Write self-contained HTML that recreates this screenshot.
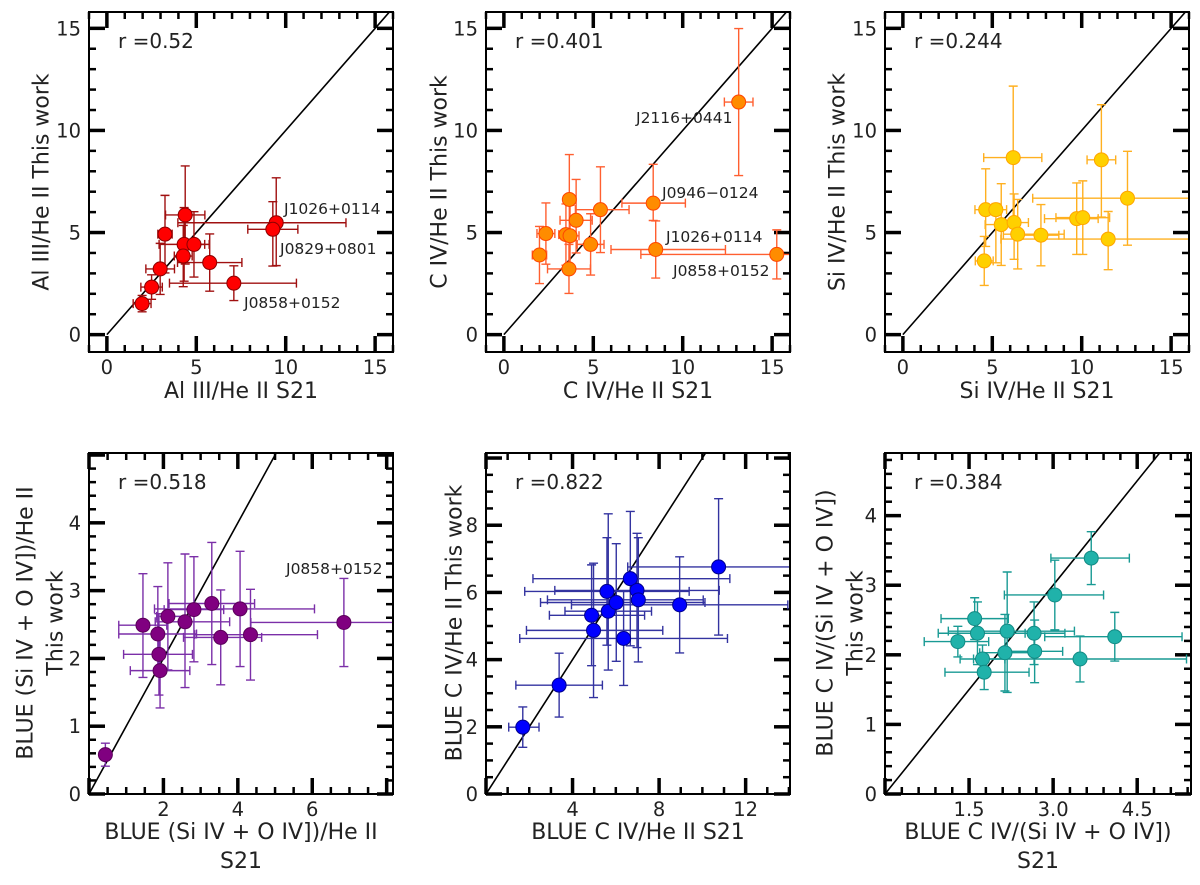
<!DOCTYPE html>
<html><head><meta charset="utf-8">
<style>
html,body{margin:0;padding:0;background:#fff;}
svg{display:block;font-family:"DejaVu Sans","Liberation Sans",sans-serif;}
</style></head>
<body>
<svg id="fig" width="1200" height="885" viewBox="0 0 1200 885" xmlns="http://www.w3.org/2000/svg"></svg>
<script>
// ---- Panel 1: Al III/He II ----
const p1x=[1.97,2.5,2.98,3.25,4.38,4.32,4.87,4.27,5.75,7.1,9.47,9.28];
const p1y=[1.52,2.33,3.22,4.92,5.86,4.42,4.42,3.85,3.53,2.52,5.48,5.16];
const p1xlo=[0.5,0.6,0.8,0.4,1.1,1.4,0.6,0.5,1.8,3.6,5.5,1.4];
const p1xhi=[0.5,0.6,0.8,0.4,1.1,1.4,0.6,0.5,1.8,3.5,3.9,1.4];
const p1ylo=[0.4,0.6,1.25,1.9,2.4,1.8,1.6,1.5,1.4,0.85,2.1,1.8];
const p1yhi=[0.4,0.6,1.25,1.9,2.4,1.8,1.6,1.5,1.4,0.85,2.2,1.35];
// ---- Panel 2: C IV/He II ----
const p2x=[13.13,8.35,8.49,15.26,5.4,3.66,4.04,3.47,3.7,2.35,1.99,4.85,3.64];
const p2y=[11.39,6.44,4.17,3.93,6.12,6.62,5.6,4.9,4.84,4.95,3.9,4.42,3.22];
const p2xlo=[0.8,1.75,2.5,7.6,1.4,0.3,0.9,0.4,0.5,0.5,0.4,0.75,1.2];
const p2xhi=[0.8,1.8,3.9,1,1.6,0.3,0.9,0.4,0.5,0.5,0.4,0.75,1.2];
const p2ylo=[3.6,0.85,1.4,1.2,2.1,3.4,1.6,1.5,1.5,1.5,1.4,1.5,1.2];
const p2yhi=[3.6,1.9,1.4,1.2,2.1,2.2,2.0,1.5,1.5,1.5,1.4,1.5,1.2];
// ---- Panel 3: Si IV/He II ----
const p3x=[6.17,11.1,12.56,9.72,10.06,11.48,4.63,5.2,5.5,6.22,6.42,7.72,4.55];
const p3y=[8.67,8.56,6.68,5.68,5.73,4.68,6.12,6.12,5.39,5.49,4.92,4.87,3.61];
const p3xlo=[1.65,0.8,5.3,1.8,1.5,6,0.6,0.6,0.9,0.8,0.8,1,0.5];
const p3xhi=[1.6,0.8,5,1.2,1.5,5,0.6,0.6,0.9,0.8,2.6,1,0.5];
const p3ylo=[3.4,2.8,2.3,1.75,1.8,1.5,1.8,2.6,2.0,1.8,1.7,1.5,1.2];
const p3yhi=[3.5,2.7,2.3,1.75,1.8,1.35,2.0,0.3,2.0,1.4,1.7,1.5,1.2];
// ---- Panel 4: BLUE (Si IV + O IV])/He II ----
const p4x=[0.44,1.45,1.85,1.88,1.91,2.12,2.58,2.82,3.3,3.54,4.06,4.34,6.85];
const p4y=[0.58,2.49,2.36,2.06,1.82,2.62,2.54,2.72,2.81,2.31,2.73,2.35,2.53];
const p4xlo=[0.1,0.65,1.05,0.95,0.8,0.3,0.8,0.8,1.15,1.0,2.3,1.5,2.5];
const p4xhi=[0.1,0.64,1.04,0.9,0.8,0.6,1.2,0.8,1.15,1.1,2.0,1.8,2.5];
const p4ylo=[0.17,0.77,0.5,0.6,0.55,0.79,0.97,0.77,0.9,0.7,0.85,0.67,0.65];
const p4yhi=[0.17,0.76,0.7,0.6,0.55,0.79,1.0,0.78,0.9,0.7,0.85,0.67,0.65];
// ---- Panel 5: BLUE C IV/He II ----
const p5x=[1.7,3.38,4.97,4.88,6.36,5.65,5.59,6.02,6.67,6.98,7.04,8.95,10.75];
const p5y=[1.99,3.24,4.87,5.32,4.63,5.44,6.03,5.7,6.41,6.06,5.78,5.63,6.76];
const p5xlo=[0.65,2.0,3.1,1.95,4.8,2,3.8,3.5,4.5,3.8,4.2,5,4.2];
const p5xhi=[0.75,2.0,3.2,2.45,4.8,2,3.8,4.1,4.6,3.8,3.0,5,5];
const p5ylo=[0.6,0.95,2,1.5,1.4,1.75,1.6,1.75,2,1.7,1.85,1.43,2.03];
const p5yhi=[0.6,0.95,2,1.5,1.4,2.9,1.6,1.75,2,1.7,1.85,1.43,2.03];
// ---- Panel 6: BLUE C IV/(Si IV + O IV]) ----
const p6x=[3.68,3.03,1.6,1.65,1.3,2.18,2.66,4.1,2.14,2.67,1.74,3.48,1.77];
const p6y=[3.39,2.86,2.52,2.31,2.19,2.34,2.31,2.26,2.03,2.05,1.94,1.94,1.75];
const p6xlo=[0.72,0.9,0.6,0.7,0.6,1.05,0.5,1.25,0.45,0.5,0.4,1.9,0.7];
const p6xhi=[0.68,0.87,0.6,0.85,0.55,1.2,0.55,1.2,0.45,0.5,0.4,1.9,0.8];
const p6ylo=[0.38,0.5,0.3,0.45,0.22,0.88,0.45,0.35,0.55,0.45,0.2,0.33,0.25];
const p6yhi=[0.38,0.5,0.3,0.45,0.22,0.85,0.45,0.35,0.55,0.45,0.2,0.33,0.25];

const rValues=["0.52","0.401","0.244","0.518","0.822","0.384"];
const topTickLabels=["0","5","10","15"];
const p4xTicks=["2","4","6"], p4yTicks=["0","1","2","3","4"];
const p5xTicks=["4","8","12"], p5yTicks=["0","2","4","6","8"];
const p6xTicks=["1.5","3.0","4.5"], p6yTicks=["0","1","2","3","4"];

const NS="http://www.w3.org/2000/svg";
const svg=document.getElementById('fig');
function mk(tag,attrs,parent){const e=document.createElementNS(NS,tag);for(const k in attrs)e.setAttribute(k,attrs[k]);(parent||svg).appendChild(e);return e;}

const panels=[
 {id:1,f:[89,12,393,352],xl:[-1,16],yl:[-0.85,15.8],xmaj:5,xmin:1,ymaj:5,ymin:1,xt:topTickLabels,yt:topTickLabels,xt0:0,yt0:0,
  d:[p1x,p1y,p1xlo,p1xhi,p1ylo,p1yhi],mc:"#ff0000",me:"#8b0000",ec:"#a01010"},
 {id:2,f:[486,12,790,352],xl:[-1,16],yl:[-0.85,15.8],xmaj:5,xmin:1,ymaj:5,ymin:1,xt:topTickLabels,yt:topTickLabels,xt0:0,yt0:0,
  d:[p2x,p2y,p2xlo,p2xhi,p2ylo,p2yhi],mc:"#ff8c00",me:"#ff4500",ec:"#ff5f30"},
 {id:3,f:[885,12,1189,352],xl:[-1,16],yl:[-0.85,15.8],xmaj:5,xmin:1,ymaj:5,ymin:1,xt:topTickLabels,yt:topTickLabels,xt0:0,yt0:0,
  d:[p3x,p3y,p3xlo,p3xhi,p3ylo,p3yhi],mc:"#ffd000",me:"#ffa500",ec:"#ffb020"},
 {id:4,f:[89,453,393,794],xl:[0,8.17],yl:[0,5.03],xmaj:2,xmin:0.5,ymaj:1,ymin:0.2,xt:p4xTicks,yt:p4yTicks,xt0:2,yt0:0,
  d:[p4x,p4y,p4xlo,p4xhi,p4ylo,p4yhi],mc:"#800080",me:"#5a005a",ec:"#7b2fa8"},
 {id:5,f:[486,453,790,794],xl:[0,14.05],yl:[0,10.15],xmaj:4,xmin:1,ymaj:2,ymin:0.5,xt:p5xTicks,yt:p5yTicks,xt0:4,yt0:0,
  d:[p5x,p5y,p5xlo,p5xhi,p5ylo,p5yhi],mc:"#0000ff",me:"#00008b",ec:"#3333a0"},
 {id:6,f:[885,453,1191,794],xl:[0,5.46],yl:[0,4.9],xmaj:1.5,xmin:0.3,ymaj:1,ymin:0.2,xt:p6xTicks,yt:p6yTicks,xt0:1.5,yt0:0,
  d:[p6x,p6y,p6xlo,p6xhi,p6ylo,p6yhi],mc:"#20b2aa",me:"#138a84",ec:"#199a94"}
];

panels.forEach((P,pi)=>{
  const [x0,y0,x1,y1]=P.f;
  const sx=v=>x0+(v-P.xl[0])/(P.xl[1]-P.xl[0])*(x1-x0);
  const sy=v=>y1-(v-P.yl[0])/(P.yl[1]-P.yl[0])*(y1-y0);
  const g=mk('g',{});
  
  
  const cp=mk('clipPath',{id:'clip'+P.id},g);
  mk('rect',{x:x0,y:y0,width:x1-x0,height:y1-y0},cp);
  const tg=mk('g',{stroke:'#000'},g);
  
  
  const eps=1e-6;
  for(let v=Math.ceil(P.xl[0]/P.xmin-eps)*P.xmin; v<=P.xl[1]+eps; v+=P.xmin){
    const major=Math.abs(v/P.xmaj-Math.round(v/P.xmaj))<1e-4;
    const L=major?16:7, w=major?3.5:2.5, X=sx(v);
    mk('line',{x1:X,x2:X,y1:y1,y2:y1-L,'stroke-width':w},tg);
    mk('line',{x1:X,x2:X,y1:y0,y2:y0+L,'stroke-width':w},tg);
  }
  for(let v=Math.ceil(P.yl[0]/P.ymin-eps)*P.ymin; v<=P.yl[1]+eps; v+=P.ymin){
    const major=Math.abs(v/P.ymaj-Math.round(v/P.ymaj))<1e-4;
    const L=major?16:7, w=major?3.5:2.5, Y=sy(v);
    mk('line',{x1:x0,x2:x0+L,y1:Y,y2:Y,'stroke-width':w},tg);
    mk('line',{x1:x1,x2:x1-L,y1:Y,y2:Y,'stroke-width':w},tg);
  }
  P.xt.forEach((t,i)=>{
    const tx=mk('text',{x:sx(P.xt0+i*P.xmaj),y:y1+22,'font-size':19.5,'text-anchor':'middle',fill:'#222'},g);
    
    
    tx.textContent=t;
  });
  P.yt.forEach((t,i)=>{
    const tx=mk('text',{x:x0-8,y:sy(P.yt0+i*P.ymaj)+7,'font-size':19.5,'text-anchor':'end',fill:'#222'},g);
    
    
    tx.textContent=t;
  });
  const lo=0, hi=Math.min(P.xl[1],P.yl[1]);
  const ln=mk('line',{x1:sx(lo),y1:sy(lo),x2:sx(hi),y2:sy(hi),stroke:'#000','stroke-width':1.6,'clip-path':'url(#clip'+P.id+')'},g);
  
  
  const [X,Y,XL,XH,YL,YH]=P.d;
  const eg=mk('g',{stroke:P.ec,'stroke-width':1.4,fill:'none','clip-path':'url(#clip'+P.id+')'},g);
  
  
  const cap=4.5;
  X.forEach((xv,i)=>{
    const cx=sx(xv), cy=sy(Y[i]);
    const a=sx(xv-XL[i]), b=sx(xv+XH[i]), c=sy(Y[i]+YH[i]), d=sy(Y[i]-YL[i]);
    mk('path',{d:`M${a},${cy}H${b}M${a},${cy-cap}V${cy+cap}M${b},${cy-cap}V${cy+cap}M${cx},${c}V${d}M${cx-cap},${c}H${cx+cap}M${cx-cap},${d}H${cx+cap}`},eg);
  });
  const mg=mk('g',{fill:P.mc,stroke:P.me,'stroke-width':1,'clip-path':'url(#clip'+P.id+')'},g);
  X.forEach((xv,i)=>{
    const c=mk('circle',{cx:sx(xv),cy:sy(Y[i]),r:7},mg);
    
    
  });
  const fr=mk('rect',{x:x0,y:y0,width:x1-x0,height:y1-y0,fill:'none',stroke:'#000','stroke-width':2},g);
  
  
  const rt=mk('text',{x:x0+29,y:y0+36,'font-size':20,fill:'#222'},g);
  
  
  rt.textContent='r ='+rValues[pi];
});

function txt(x,y,s,size,name,opts){
  const t=mk('text',Object.assign({x:x,y:y,'font-size':size,fill:'#222'},opts||{}));
  
  
  t.textContent=s;return t;
}
txt(284,214,'J1026+0114',15.5,'annotation-j1026');
txt(280,254,'J0829+0801',15.5,'annotation-j0829');
txt(244,308,'J0858+0152',15.5,'annotation-j0858');
txt(636,123,'J2116+0441',15.5,'annotation-j2116');
txt(662,198,'J0946\u22120124',15.5,'annotation-j0946');
txt(666,242,'J1026+0114',15.5,'annotation-j1026-c4');
txt(673,276,'J0858+0152',15.5,'annotation-j0858-c4');
txt(286,574,'J0858+0152',15.5,'annotation-j0858-blue');

txt(241,398,'Al III/He II S21',22,'x-axis-title-1',{'text-anchor':'middle'});
txt(638,398,'C IV/He II S21',22,'x-axis-title-2',{'text-anchor':'middle'});
txt(1037,398,'Si IV/He II S21',22,'x-axis-title-3',{'text-anchor':'middle'});
txt(241,839,'BLUE  (Si IV + O IV])/He II',22,'x-axis-title-4',{'text-anchor':'middle','xml:space':'preserve'});
txt(241,868,'S21',22,'x-axis-title-4b',{'text-anchor':'middle'});
txt(638,839,'BLUE C IV/He II S21',22,'x-axis-title-5',{'text-anchor':'middle'});
txt(1038,839,'BLUE C IV/(Si IV + O IV])',22,'x-axis-title-6',{'text-anchor':'middle'});
txt(1038,868,'S21',22,'x-axis-title-6b',{'text-anchor':'middle'});

function ytitle(cx,cy,s,name){
  return txt(0,0,s,22,name,{'text-anchor':'middle','dominant-baseline':'central','transform':`translate(${cx},${cy}) rotate(-90)`,'xml:space':'preserve'});
}
ytitle(42,182,'Al III/He II This work','y-axis-title-1');
ytitle(440,182,'C IV/He II This work','y-axis-title-2');
ytitle(838,182,'Si IV/He II This work','y-axis-title-3');
ytitle(26,623,'BLUE (Si IV + O IV])/He II','y-axis-title-4');
ytitle(56,623,'This work','y-axis-title-4b');
ytitle(455,623,'BLUE C IV/He II  This work','y-axis-title-5');
ytitle(826,623,'BLUE C IV/(Si IV + O IV])','y-axis-title-6');
ytitle(856,623,'This work','y-axis-title-6b');
</script>
</body></html>
